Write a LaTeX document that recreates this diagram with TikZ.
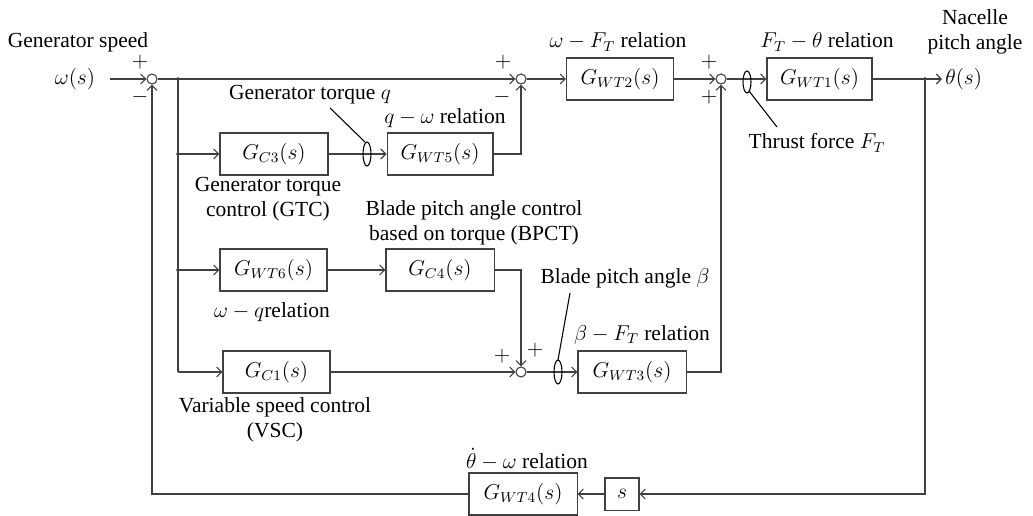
\documentclass[tikz,border=0pt]{standalone}
\usepackage{fontspec}
\setmainfont{Liberation Serif}
\usetikzlibrary{arrows.meta}
\newdimen\px \px=0.558pt
\definecolor{lc}{gray}{0.25}
\begin{document}
\begin{tikzpicture}[x=0.558pt, y=-0.558pt,
  font=\fontsize{12}{14}\selectfont,
  blk/.style={draw=lc, line width=0.6pt, minimum height=23.4pt, inner sep=0pt},
  sumn/.style={circle, draw=lc, line width=0.6pt, minimum size=5.6pt, inner sep=0pt},
  dotn/.style={circle, fill=black, minimum size=2.2pt, inner sep=0pt},
  sig/.style={line width=0.6pt, draw=lc, -{Straight Barb[length=2.8pt, width=5.6pt]}},
  ln/.style={line width=0.6pt, draw=lc},
  lbl/.style={inner sep=0pt, align=center},
  twist/.style={line width=0.6pt, draw=black}
]
\useasboundingbox (0,0) rectangle (1033,516);

% summing junctions
\node[sumn] (sum1) at (152,79) {};
\node[sumn] (sum2) at (521,79) {};
\node[sumn] (sum3) at (721,79) {};
\node[sumn] (sum4) at (521,372) {};

% branch points
\node[dotn] (d1) at (178,79) {};
\node[dotn] (d2) at (178,154) {};
\node[dotn] (d3) at (178,270) {};
\coordinate (c4) at (178,372);
\node[dotn] (dth) at (925,79) {};

% blocks
\node[blk, minimum width=59.7pt] (GWT2) at (620,79) {$G_{WT2}(s)$};
\node[blk, minimum width=58.6pt] (GWT1) at (819.5,79) {$G_{WT1}(s)$};
\node[blk, minimum width=60.3pt] (GC3) at (274,154) {$G_{C3}(s)$};
\node[blk, minimum width=59.1pt] (GWT5) at (440,154) {$G_{WT5}(s)$};
\node[blk, minimum width=59.7pt] (GWT6) at (273.5,270) {$G_{WT6}(s)$};
\node[blk, minimum width=60.3pt] (GC4) at (440,270) {$G_{C4}(s)$};
\node[blk, minimum width=59.7pt] (GC1) at (276.5,372) {$G_{C1}(s)$};
\node[blk, minimum width=60.3pt] (GWT3) at (632,372) {$G_{WT3}(s)$};
\node[blk, minimum width=60.3pt] (GWT4) at (523,494) {$G_{WT4}(s)$};
\node[blk, minimum width=19pt, minimum height=17.9pt] (sb) at (622,494) {$s$};

% input / output
\node[lbl] (win) at (75,79) {$\omega(s)$};
\coordinate (inp) at (110,79);
\coordinate (outp) at (942,79);
\node[lbl, anchor=west] (thout) at (945,79) {$\theta(s)$};

% connectors
\draw[sig] (inp) -- (sum1.west);
\draw[sig] (sum1.east) -- (sum2.west);
\draw[sig] (sum2.east) -- (GWT2.west);
\draw[sig] (GWT2.east) -- (sum3.west);
\draw[sig] (sum3.east) -- (GWT1.west);
\draw[sig] (GWT1.east) -- (outp);
\draw[ln] (d1.center) -- (c4);
\draw[sig] (d2.center) -- (GC3.west);
\draw[sig] (GC3.east) -- (GWT5.west);
\draw[sig] (GWT5.east) -| (sum2.south);
\draw[sig] (d3.center) -- (GWT6.west);
\draw[sig] (GWT6.east) -- (GC4.west);
\draw[sig] (GC4.east) -| (sum4.north);
\draw[sig] (c4) -- (GC1.west);
\draw[sig] (GC1.east) -- (sum4.west);
\draw[sig] (sum4.east) -- (GWT3.west);
\draw[sig] (GWT3.east) -| (sum3.south);
\draw[sig] (dth.center) |- (sb.east);
\draw[sig] (sb.west) -- (GWT4.east);
\draw[sig] (GWT4.west) -| (sum1.south);

% signal markers (twists)
\coordinate (tq) at (367,154);
\coordinate (tb) at (558,372);
\coordinate (tf) at (747,82);
\draw[twist] (tq) ellipse [x radius=4, y radius=12];
\draw[twist] (tb) ellipse [x radius=4, y radius=12];
\draw[twist] (tf) ellipse [x radius=4, y radius=11];

% leader lines
\coordinate (lq) at (330,108);
\coordinate (lb) at (570,293);
\coordinate (lf) at (777,127);
\draw[ln, black] (lq) -- (365,142);
\draw[ln, black] (lb) -- (558,360);
\draw[ln, black] (lf) -- (749,91);

% signs
\node[lbl] at (140,62) {$+$};
\node[lbl] at (140,97) {$-$};
\node[lbl] at (503,62) {$+$};
\node[lbl] at (502,97) {$-$};
\node[lbl] at (709,62) {$+$};
\node[lbl] at (709,97) {$+$};
\node[lbl] at (502,356) {$+$};
\node[lbl] at (535,350) {$+$};

% labels
\node[lbl] at (78,42) {Generator speed};
\node[lbl] at (618,42) {$\omega - F_T$ relation};
\node[lbl] at (827,42) {$F_T - \theta$ relation};
\node[lbl] at (975,32) {Nacelle\\pitch angle};
\node[lbl] at (817,143) {Thrust force $F_T$};
\node[lbl] at (310,95) {Generator torque $q$};
\node[lbl] at (445,118) {$q - \omega$ relation};
\node[lbl] at (268,199) {Generator torque\\control (GTC)};
\node[lbl] at (474,223) {Blade pitch angle control\\based on torque (BPCT)};
\node[lbl] at (272,312) {$\omega - q$relation};
\node[lbl] at (625,278) {Blade pitch angle $\beta$};
\node[lbl] at (642,335) {$\beta - F_T$ relation};
\node[lbl] at (275,420) {Variable speed control\\(VSC)};
\node[lbl] at (527,459) {$\dot{\theta} - \omega$ relation};
\end{tikzpicture}
\end{document}
